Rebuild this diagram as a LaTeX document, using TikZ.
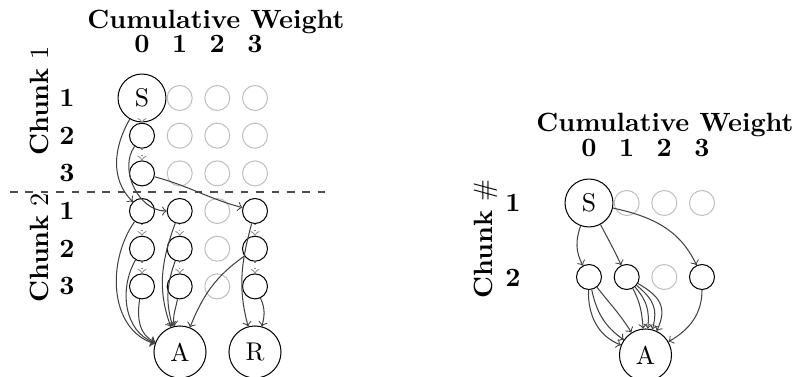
\documentclass[tikz,border=0pt]{standalone}
\begin{document}
\begin{tikzpicture}[x=0.39pt,y=-0.39pt,
  blk/.style={circle,draw,minimum size=9.75pt,inner sep=0pt},
  gry/.style={circle,draw=black!25,minimum size=9.75pt,inner sep=0pt},
  bigS/.style={circle,draw,minimum size=18.7pt,inner sep=0pt},
  bigA/.style={circle,draw,minimum size=20.3pt,inner sep=0pt},
  lbl/.style={font=\fontsize{10.3}{12}\selectfont\bfseries,inner sep=0pt},
  chl/.style={rotate=90,inner sep=0pt,font=\fontsize{10.3}{12}\selectfont},
  ed/.style={draw=black!75,->},
  dt/.style={draw=black!45,dotted,->},
]
\useasboundingbox (0,0) rectangle (796,377);

% ---------------- left graph ----------------
\node[lbl] (cwL) at (216,21.5) {Cumulative Weight};
\node[lbl] (w0L) at (142,43.5) {0};
\node[lbl] (w1L) at (179.7,43.5) {1};
\node[lbl] (w2L) at (217.3,43.5) {2};
\node[lbl] (w3L) at (255,43.5) {3};

\node[lbl] (r1L) at (67,98) {1};
\node[lbl] (r2L) at (67,135.7) {2};
\node[lbl] (r3L) at (67,173.4) {3};
\node[lbl] (r4L) at (67,211) {1};
\node[lbl] (r5L) at (67,248.7) {2};
\node[lbl] (r6L) at (67,286.4) {3};

\node[chl] (ch1) at (39,101) {\textbf{Chunk} 1};
\node[chl] (ch2) at (39,248) {\textbf{Chunk} 2};

\coordinate (dl) at (10,192);
\coordinate (dr) at (330,192);
\draw[dashed,black!70] (dl) -- (dr);

\node[bigS] (L10) at (142,98) {S};
\node[gry] (L11) at (179.7,98) {};
\node[gry] (L12) at (217.3,98) {};
\node[gry] (L13) at (255,98) {};
\node[blk] (L20) at (142,135.7) {};
\node[gry] (L21) at (179.7,135.7) {};
\node[gry] (L22) at (217.3,135.7) {};
\node[gry] (L23) at (255,135.7) {};
\node[blk] (L30) at (142,173.4) {};
\node[gry] (L31) at (179.7,173.4) {};
\node[gry] (L32) at (217.3,173.4) {};
\node[gry] (L33) at (255,173.4) {};
\node[blk] (L40) at (142,211) {};
\node[blk] (L41) at (179.7,211) {};
\node[gry] (L42) at (217.3,211) {};
\node[blk] (L43) at (255,211) {};
\node[blk] (L50) at (142,248.7) {};
\node[blk] (L51) at (179.7,248.7) {};
\node[gry] (L52) at (217.3,248.7) {};
\node[blk] (L53) at (255,248.7) {};
\node[blk] (L60) at (142,286.4) {};
\node[blk] (L61) at (179.7,286.4) {};
\node[gry] (L62) at (217.3,286.4) {};
\node[blk] (L63) at (255,286.4) {};
\node[bigA] (LA) at (180,352) {A};
\node[bigA] (LR) at (255,352) {R};

\draw[dt] (L10) -- (L20);
\draw[dt] (L20) -- (L30);
\draw[dt] (L40) -- (L50);
\draw[dt] (L50) -- (L60);
\draw[dt] (L41) -- (L51);
\draw[dt] (L51) -- (L61);
\draw[dt] (L43) -- (L53);
\draw[dt] (L53) -- (L63);

\draw[ed] (L10) to[out=-120,in=135] (L40);
\draw[ed] (L20) to[out=-125,in=180] (L41);
\draw[ed] (L30) to[out=-15,in=165] (L43);
\draw[ed] (L40) to[out=-125,in=162] (LA);
\draw[ed] (L50) to[out=-120,in=160] (LA);
\draw[ed] (L60) to[out=-100,in=158] (LA);
\draw[ed] (L41) to[out=-110,in=110] (LA);
\draw[ed] (L51) to[out=-110,in=106] (LA);
\draw[ed] (L61) to[out=-100,in=102] (LA);
\draw[ed] (L53) to[out=-145,in=68] (LA);
\draw[ed] (L43) to[out=-105,in=105] (LR);
\draw[ed] (L63) to[out=-65,in=75] (LR);

% ---------------- right graph ----------------
\node[lbl] (cwR) at (665,125) {Cumulative Weight};
\node[lbl] (w0R) at (589,147.5) {0};
\node[lbl] (w1R) at (626.7,147.5) {1};
\node[lbl] (w2R) at (664.3,147.5) {2};
\node[lbl] (w3R) at (702,147.5) {3};

\node[lbl] (r1R) at (513,203) {1};
\node[lbl] (r2R) at (513,278) {2};
\node[chl] (chR) at (486,239) {\textbf{Chunk} \#};

\node[bigS] (R10) at (589,203) {S};
\node[gry] (R11) at (626.7,203) {};
\node[gry] (R12) at (664.3,203) {};
\node[gry] (R13) at (702,203) {};
\node[blk] (R20) at (589,277) {};
\node[blk] (R21) at (626.7,277) {};
\node[gry] (R22) at (664.3,277) {};
\node[blk] (R23) at (702,277) {};
\node[bigA] (RA) at (645.5,355) {A};

\draw[ed] (R10) to[out=-110,in=118] (R20);
\draw[ed] (R10) to[out=-62,in=115] (R21);
\draw[ed] (R10) to[out=-12,in=115] (R23);
\draw[ed] (R20) to[out=-52,in=122] (RA);
\draw[ed] (R20) to[out=-78,in=145] (RA);
\draw[ed] (R20) to[out=-92,in=158] (RA);
\draw[ed] (R21) to[out=-62,in=95] (RA);
\draw[ed] (R21) to[out=-50,in=85,looseness=1.1] (RA);
\draw[ed] (R21) to[out=-40,in=75,looseness=1.2] (RA);
\draw[ed] (R21) to[out=-30,in=65,looseness=1.3] (RA);
\draw[ed] (R23) to[out=-90,in=30] (RA);
\end{tikzpicture}
\end{document}
